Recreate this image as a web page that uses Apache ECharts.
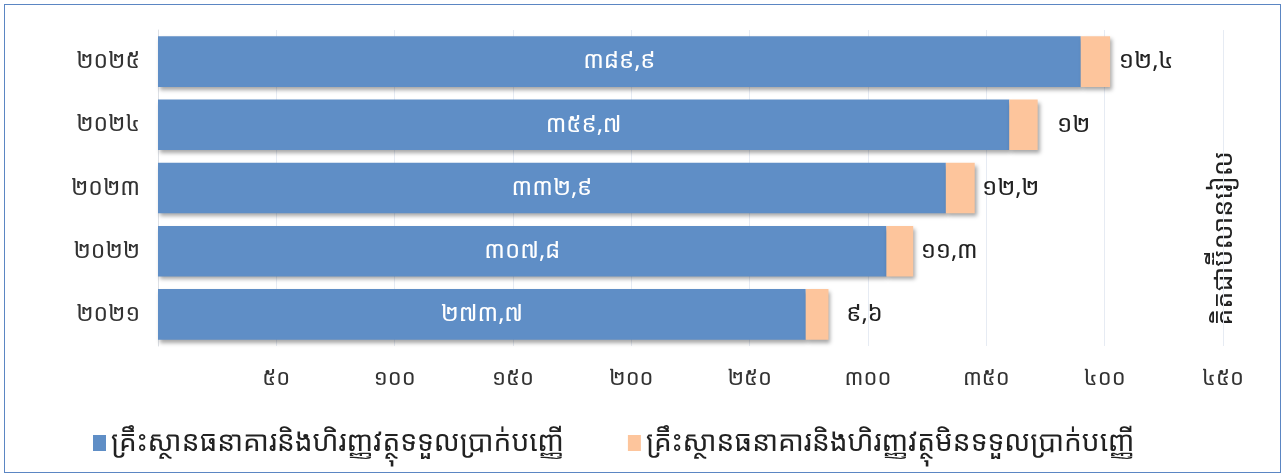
<!DOCTYPE html>
<html>
<head>
<meta charset="utf-8">
<script src="https://cdn.jsdelivr.net/npm/echarts@6/dist/echarts.min.js"></script>
<style>
	html,body{margin:0;padding:0;background:#fff;}
	#wrap{position:absolute;left:4px;top:4px;width:1275px;height:467px;border:1px solid #5b86c3;}
	#chart{width:1275px;height:467px;}
</style>
</head>
<body>
<div id="wrap"><div id="chart"></div></div>
<script>
	var years = ['២០២១','២០២២','២០២៣','២០២៤','២០២៥'];
	var accepting = [273.7, 307.8, 332.9, 359.7, 389.9];
	var nonAccepting = [9.6, 11.3, 12.2, 12, 12.4];
	var seriesNames = ['គ្រឹះស្ថានធនាគារនិងហិរញ្ញវត្ថុទទួលប្រាក់បញ្ញើ','គ្រឹះស្ថានធនាគារនិងហិរញ្ញវត្ថុមិនទទួលប្រាក់បញ្ញើ'];
	var unitName = 'គិតជាប៊ីលានរៀល';

	var khDigits = '០១២៣៤៥៦៧៨៩';
	// 389.9 -> ៣៨៩,៩
	function toKhmer(v){
		var s = String(v).replace('.', ',');
		return s.replace(/[0-9]/g, function(d){ return khDigits.charAt(+d); });
	}

	function $extend(a, b){
		for(var k in b){ if(b.hasOwnProperty(k)) a[k] = b[k]; }
		return a;
	}

	var font = '"Noto Sans Khmer","Khmer OS","DejaVu Sans",sans-serif';
	var node = echarts.init(document.getElementById('chart'));
	var shadow = {shadowColor:'rgba(0,0,0,0.35)', shadowBlur:4, shadowOffsetX:2, shadowOffsetY:3};

	var option = {
		animation:false,
		textStyle:{fontFamily:font},
		grid:{left:153, right:57, top:25, bottom:126},
		legend:{
			bottom:10,
			left:83,
			itemGap:64,
			itemWidth:13,
			itemHeight:16,
			icon:'rect',
			textStyle:{fontSize:28, color:'#222', fontFamily:font},
			data:seriesNames
		},
		xAxis:{
			type:'value',
			min:0,
			max:450,
			interval:50,
			axisLine:{show:false},
			axisTick:{show:false},
			splitLine:{lineStyle:{color:'#e6ebf3'}},
			axisLabel:{
				fontSize:22,
				color:'#333',
				margin:22,
				formatter:function(v){ return v == 0 ? '' : toKhmer(v); }
			}
		},
		yAxis:{
			type:'category',
			data:years,
			axisLine:{show:true, lineStyle:{color:'#dde0e5'}},
			axisTick:{show:false},
			axisLabel:{fontSize:23, color:'#333', margin:18}
		},
		graphic:[{
			type:'text',
			left:1206,
			top:'middle',
			rotation:Math.PI/2,
			style:{text:unitName, fill:'#222', font:'27px ' + font}
		}],
		series:[
			{
				name:seriesNames[0],
				type:'bar',
				stack:'total',
				barCategoryGap:'20%',
				itemStyle:$extend({color:'#5f8ec6'}, shadow),
				label:{
					show:true,
					position:'inside',
					color:'#fff',
					fontSize:24,
					formatter:function(p){ return toKhmer(p.value); }
				},
				data:accepting
			},
			{
				name:seriesNames[1],
				type:'bar',
				stack:'total',
				itemStyle:$extend({color:'#fdc59c'}, shadow),
				label:{
					show:true,
					position:'right',
					distance:0,
					align:'center',
					offset:[36,0],
					color:'#222',
					fontSize:24,
					formatter:function(p){ return toKhmer(p.value); }
				},
				data:nonAccepting
			}
		]
	};

	node.setOption(option);
</script>
</body>
</html>
